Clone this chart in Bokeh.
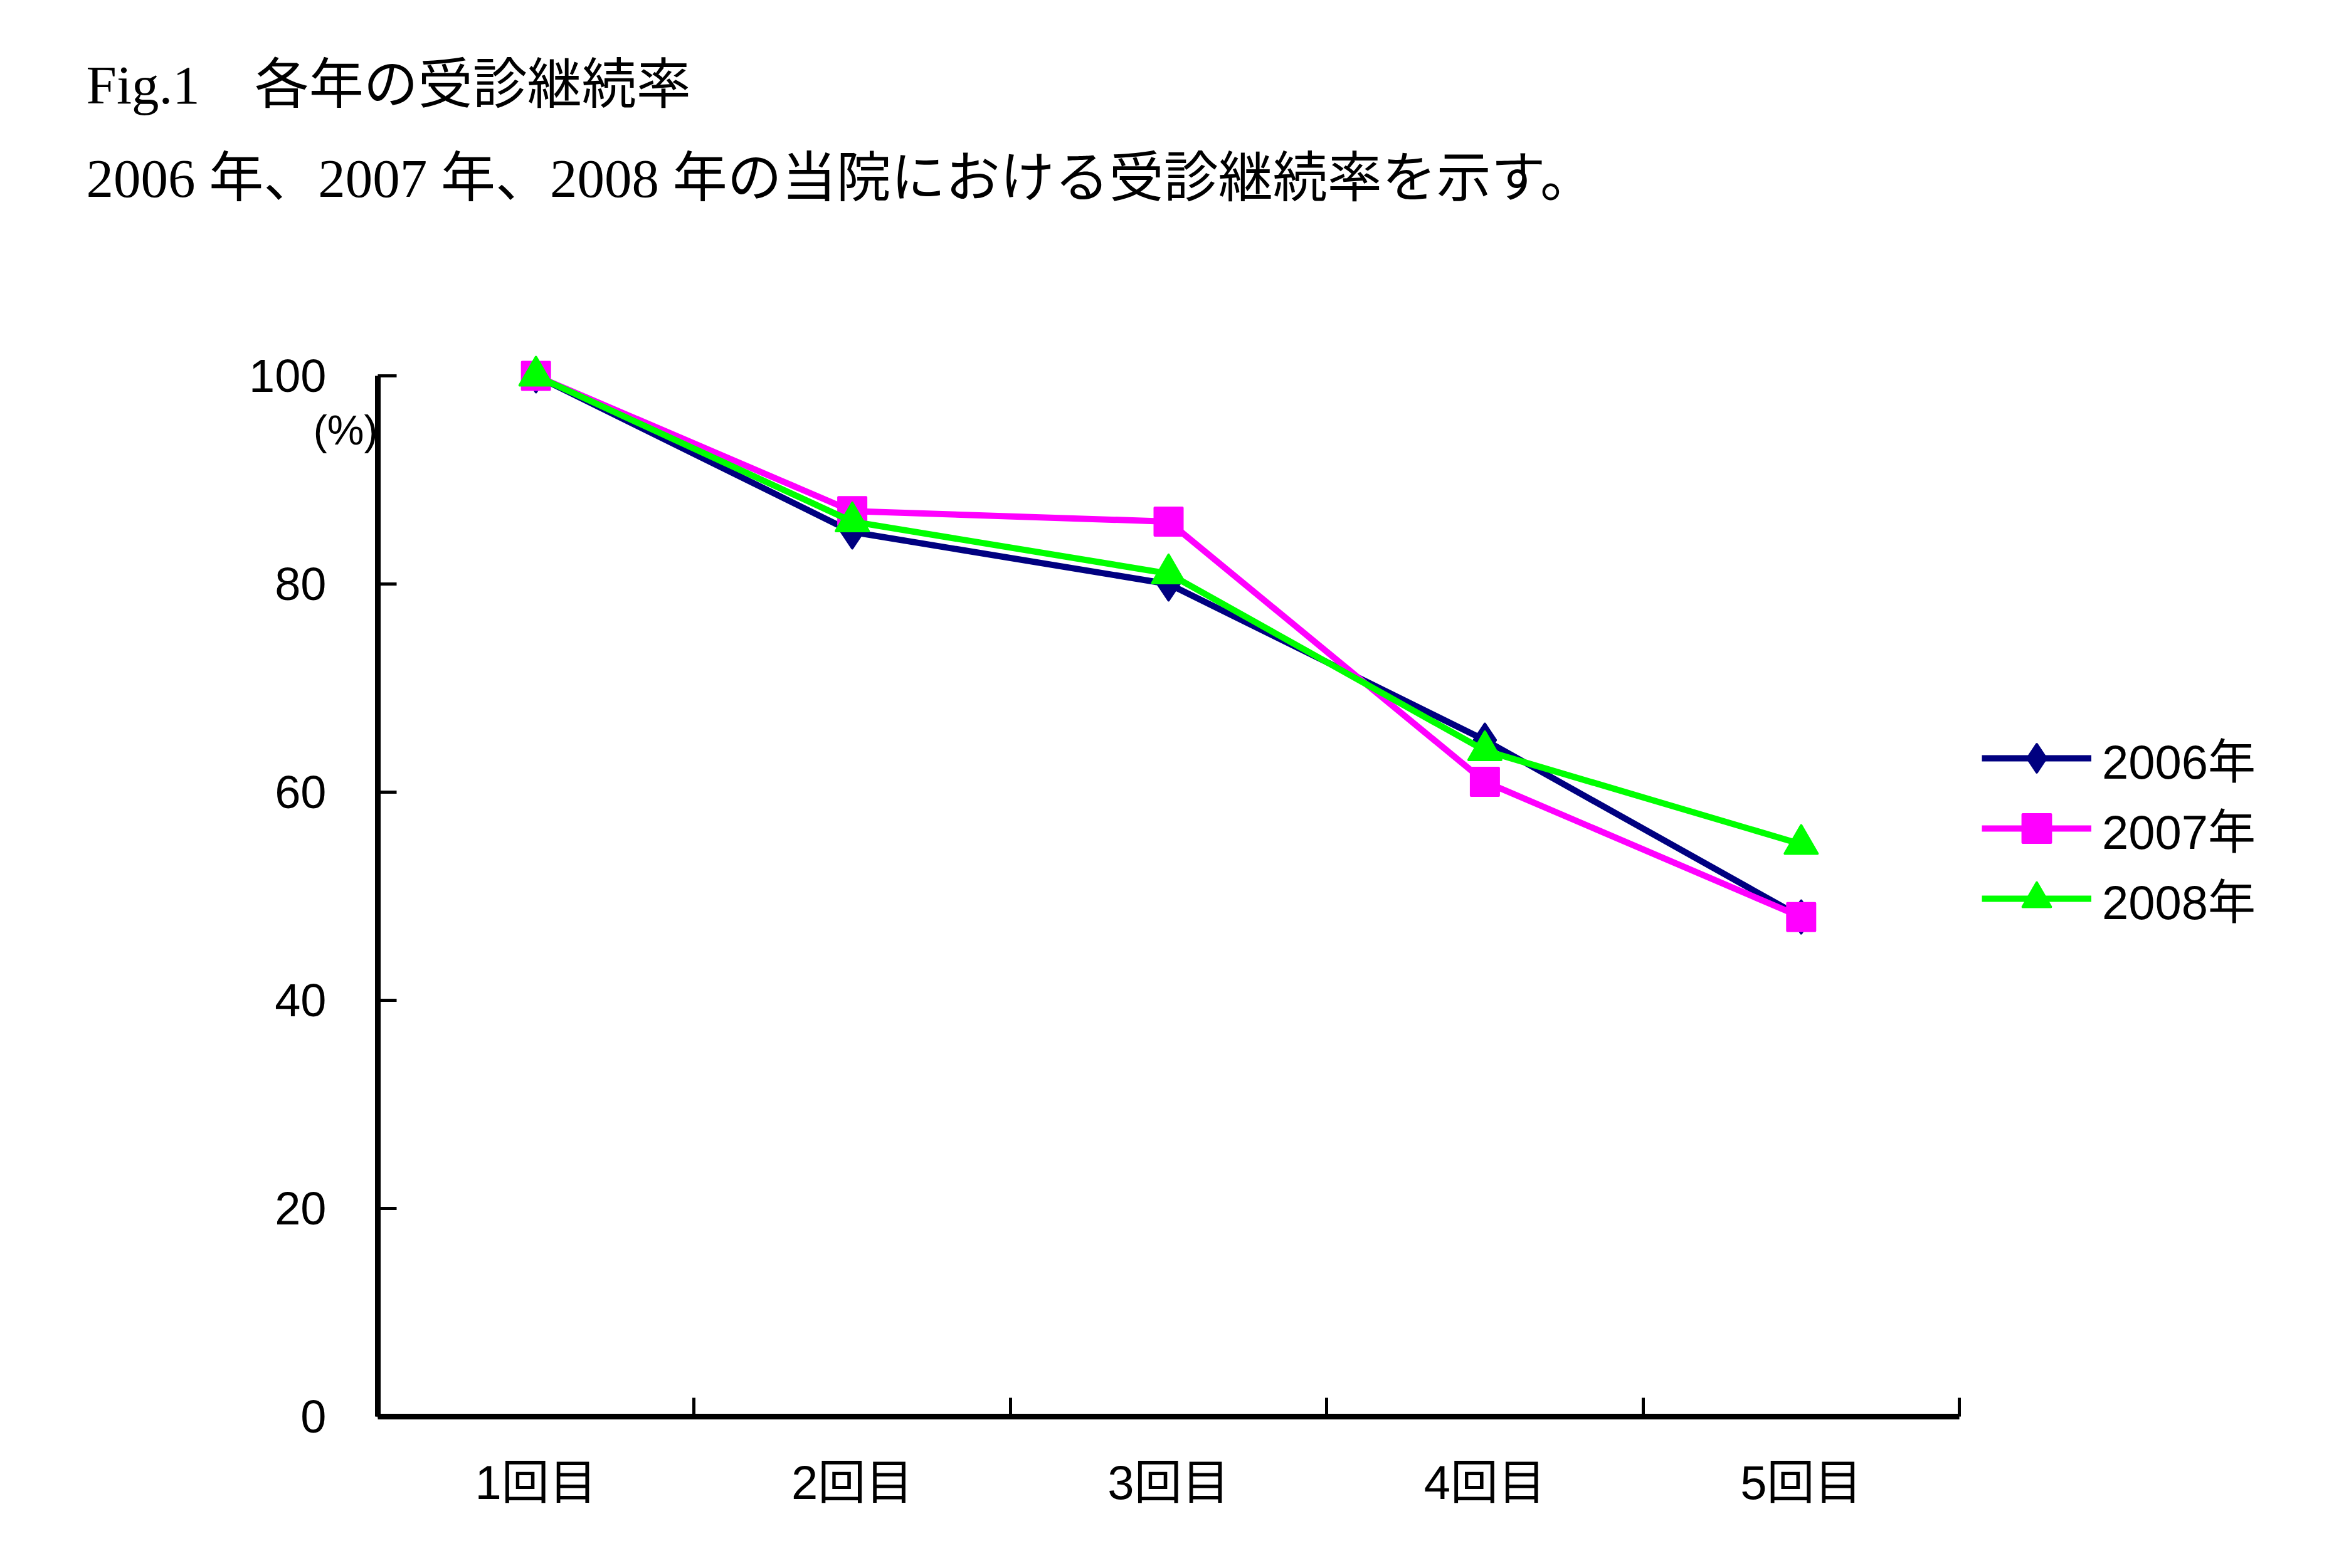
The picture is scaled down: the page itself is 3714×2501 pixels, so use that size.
import numpy as np
from bokeh.plotting import figure
from bokeh.models import (FixedTicker, Legend, LegendItem, Label, ColumnDataSource,
                          Range1d, LinearAxis)
from bokeh.embed import file_html
from bokeh.resources import INLINE

# ---- data ----
categories = ["1回目", "2回目", "3回目", "4回目", "5回目"]
series_names = ["2006年", "2007年", "2008年"]
v2006 = [100, 85, 80, 65, 48]
v2007 = [100, 87, 86, 61, 48]
v2008 = [100, 86, 81, 64, 55]
y_ticks = [0, 20, 40, 60, 80, 100]
title_line1 = "Fig.1\u3000各年の受診継続率"
title_line2 = "2006 年、2007 年、2008 年の当院における受診継続率を示す。"
unit_label = "(%)"

W, H = 3714, 2501
# plot-area placement on the canvas (pixels)
AX_LEFT, AX_RIGHT, AX_TOP, AX_BOTTOM = 602, 3124, 599, 2259

xpos = list(range(1, len(categories) + 1))
x_lo, x_hi = xpos[0] - 0.5, xpos[-1] + 0.5
y_lo, y_hi = y_ticks[0], y_ticks[-1]

# ranges chosen so the whole canvas is the frame and the axes sit at the wanted place
sx = (AX_RIGHT - AX_LEFT) / (x_hi - x_lo)
sy = (AX_BOTTOM - AX_TOP) / (y_hi - y_lo)
x_range = Range1d(x_lo - AX_LEFT / sx, x_hi + (W - AX_RIGHT) / sx)
y_range = Range1d(y_lo - (H - AX_BOTTOM) / sy, y_hi + AX_TOP / sy)

SANS = "'Liberation Sans', 'Noto Sans CJK JP'"
SERIF = "'Liberation Serif', 'Noto Sans CJK JP'"

p = figure(width=W, height=H, x_range=x_range, y_range=y_range,
           x_axis_location=None, y_axis_location=None,
           min_border=0, outline_line_color=None, toolbar_location=None,
           output_backend="svg", background_fill_color="white", border_fill_color="white")
p.grid.visible = False

# x axis: labels at category centres, ticks at category boundaries (minor ticks)
xa = LinearAxis(fixed_location=y_lo, bounds=(x_lo, x_hi))
xa.ticker = FixedTicker(ticks=xpos, minor_ticks=[x - 0.5 for x in xpos] + [x_hi])
xa.major_label_overrides = {x: c for x, c in zip(xpos, categories)}
xa.major_tick_in = 0
xa.major_tick_out = 0
xa.minor_tick_in = 30
xa.minor_tick_out = 0
xa.minor_tick_line_width = 5
xa.minor_tick_line_color = "black"
xa.axis_line_width = 9
xa.axis_line_color = "black"
xa.major_label_text_font = SANS
xa.major_label_text_font_size = "76px"
xa.major_label_text_color = "black"
xa.major_label_standoff = 62
p.add_layout(xa, "below")

ya = LinearAxis(fixed_location=x_lo, bounds=(y_lo, y_hi))
ya.ticker = FixedTicker(ticks=y_ticks)
ya.major_tick_in = 30
ya.major_tick_out = 0
ya.major_tick_line_width = 5
ya.major_tick_line_color = "black"
ya.minor_tick_line_color = None
ya.axis_line_width = 9
ya.axis_line_color = "black"
ya.major_label_text_font = SANS
ya.major_label_text_font_size = "74px"
ya.major_label_text_color = "black"
ya.major_label_standoff = 82
p.add_layout(ya, "left")

colors = ["#000080", "#FF00FF", "#00FF00"]
values = [v2006, v2007, v2008]
markers = [("diamond", 52), ("square", 44), ("triangle", 52)]

items = []
for name, vals, col, (mk, sz) in zip(series_names, values, colors, markers):
    src = ColumnDataSource(dict(x=xpos, y=vals))
    lr = p.line("x", "y", source=src, line_color=col, line_width=10, line_join="round")
    sr = p.scatter("x", "y", source=src, marker=mk, size=sz,
                   fill_color=col, line_color=col, line_width=4, line_join="round")
    items.append(LegendItem(label=name, renderers=[lr, sr]))

legend = Legend(items=items, location=(3160, H - 1489), orientation="vertical",
                glyph_width=175, glyph_height=112, label_height=60, spacing=0,
                label_standoff=17, padding=0, margin=0, border_line_color=None,
                background_fill_alpha=0, label_text_font=SANS, label_text_font_size="76px",
                label_text_color="black")
p.add_layout(legend, "center")

# titles and unit label (screen units, measured from the bottom-left corner)
p.add_layout(Label(x=137, y=H - 135, x_units="screen", y_units="screen", text=title_line1,
                   text_baseline="middle", text_align="left", text_font=SERIF,
                   text_font_size="87px", text_color="black"))
p.add_layout(Label(x=137, y=H - 284, x_units="screen", y_units="screen", text=title_line2,
                   text_baseline="middle", text_align="left", text_font=SERIF,
                   text_font_size="87px", text_color="black"))
p.add_layout(Label(x=602, y=H - 685, x_units="screen", y_units="screen", text=unit_label,
                   text_baseline="middle", text_align="right", text_font=SANS,
                   text_font_size="66px", text_color="black"))

open("out.html", "w").write(file_html(p, INLINE))
